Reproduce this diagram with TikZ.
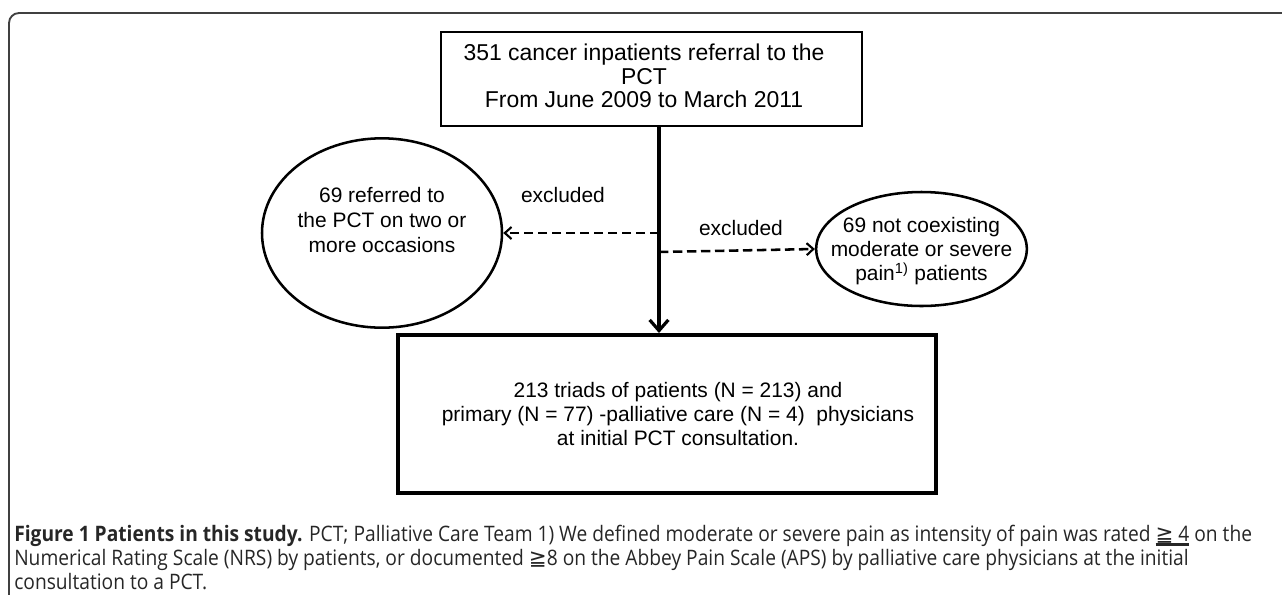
\documentclass[tikz,border=0pt]{standalone}
\usepackage{fontspec}
\setmainfont{Liberation Sans}
\newfontfamily\capfont[FakeStretch=0.9]{Open Sans}
\newfontfamily\symfont{DejaVu Sans}
\usetikzlibrary{arrows.meta,shapes.geometric}
\newcommand\thickul[1]{\setbox0\hbox{#1}\rlap{\raisebox{-3.5pt}{\rule{\wd0}{2.2pt}}}\box0}
\tikzset{
  boxtxt/.style={font=\fontsize{15.7}{18}\selectfont, align=center},
  toptxtstyle/.style={font=\fontsize{17.2}{17.5}\selectfont, align=center},
  topbox/.style={draw, line width=1.9pt, minimum width=315.75pt, minimum height=70.5pt, inner sep=0pt},
  botbox/.style={draw, line width=3pt, minimum width=403.5pt, minimum height=118.5pt, inner sep=0pt},
  oval/.style={draw, ellipse, line width=1.9pt, inner sep=0pt},
  excl/.style={dashed, dash pattern=on 7pt off 3.5pt, line width=1.9pt, -{Straight Barb[length=5pt,width=9pt,line width=1.6pt]}},
  mainarr/.style={line width=3pt, -{Straight Barb[length=8pt,width=14pt,line width=2.4pt]}},
  lbl/.style={font=\fontsize{15.7}{18}\selectfont},
  captxt/.style={anchor=base west, inner sep=0pt, font=\capfont\fontsize{16}{18}\selectfont, text=black!85}
}
\begin{document}
\begin{tikzpicture}[x=0.75pt,y=-0.75pt]
\useasboundingbox (0,0) rectangle (1282,594);
% frame
\draw[line width=1.4pt, black!75, rounded corners=7.5pt] (9,600) -- (9,13) -- (1290,13);
% nodes
\node[topbox] (top) at (651.5,79) {};
\node[toptxtstyle] (toptxt) at (644,76) {351 cancer inpatients referral to the\\PCT\\From June 2009 to March 2011};
\node[oval, minimum width=180pt, minimum height=142pt] (left) at (382,233) {};
\node[boxtxt, font=\fontsize{15.7}{19}\selectfont] (lefttxt) at (382,220) {69 referred to\\the PCT on two or\\more occasions};
\node[oval, minimum width=158pt, minimum height=85.5pt] (right) at (921.5,249) {};
\node[boxtxt] (righttxt) at (921.5,251) {69 not coexisting\\moderate or severe\\pain\textsuperscript{1)} patients};
\node[botbox] (bot) at (667,414) {};
\node[boxtxt] (bottxt) at (678,414) {213 triads of patients (N = 213) and\\primary (N = 77) -palliative care (N = 4)\ \ physicians\\at initial PCT consultation.};
\coordinate (spine) at (659,0);
\coordinate (lsplit) at (659,233);
\coordinate (rsplit) at (659,252);
% connectors
\draw[mainarr] (top.south -| spine) -- (bot.north -| spine);
\draw[excl] (lsplit) -- (left.east);
\draw[excl] (rsplit) -- (right.west);
\node[lbl] (ex1) at (563,195) {excluded};
\node[lbl] (ex2) at (741,228) {excluded};
% caption
\node[captxt] (cap1) at (14,541) {{\bfseries Figure 1 Patients in this study.} PCT; Palliative Care Team 1) We defined moderate or severe pain as intensity of pain was rated \thickul{{\symfont ≧} 4}\ on the};
\node[captxt] (cap2) at (14,565) {Numerical Rating Scale (NRS) by patients, or documented {\symfont ≧}8 on the Abbey Pain Scale (APS) by palliative care physicians at the initial};
\node[captxt] (cap3) at (14,589) {consultation to a PCT.};
\end{tikzpicture}
\end{document}
